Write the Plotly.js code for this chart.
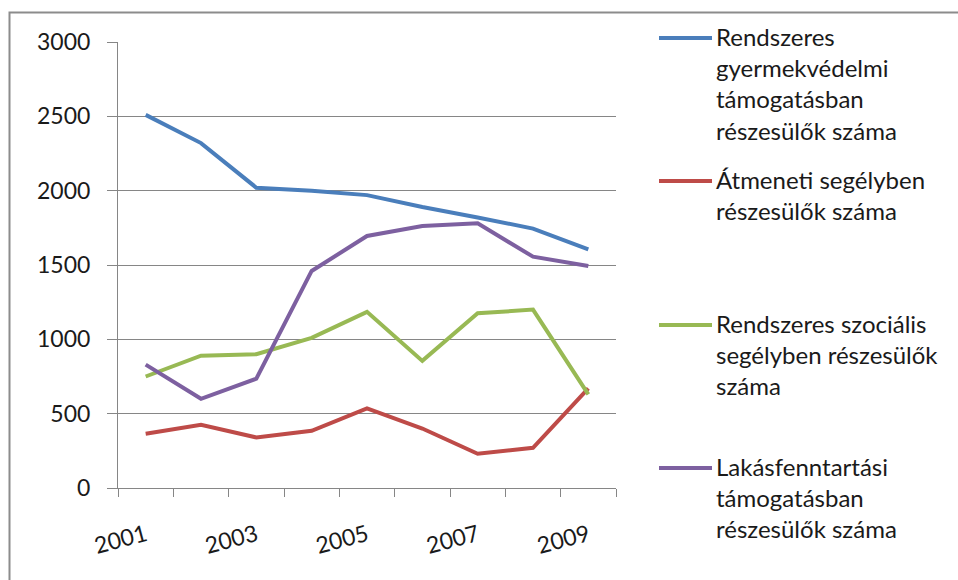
<!DOCTYPE html>
<html>
<head>
<meta charset="utf-8">
<script src="https://cdn.plot.ly/plotly-3.0.1.min.js"></script>
<style>
  html, body { margin: 0; padding: 0; background: #fff; }
  #chart { width: 958px; height: 580px; }
</style>
</head>
<body>
<div id="chart"></div>
<script>
// Adatok
const years = [2001, 2002, 2003, 2004, 2005, 2006, 2007, 2008, 2009];
const gyermekvedelmi = [2510, 2320, 2020, 2000, 1970, 1890, 1820, 1745, 1605];
const atmeneti = [365, 425, 340, 385, 535, 400, 230, 270, 670];
const szocialis = [750, 890, 900, 1010, 1185, 855, 1175, 1200, 630];
const lakasfenntartasi = [830, 600, 735, 1460, 1695, 1762, 1780, 1556, 1493];
const labelYears = [2001, 2003, 2005, 2007, 2009];

const seriesNames = [
    'Rendszeres<br>gyermekvédelmi<br>támogatásban<br>részesülők száma',
    'Átmeneti segélyben<br>részesülők száma',
    'Rendszeres szociális<br>segélyben részesülők<br>száma',
    'Lakásfenntartási<br>támogatásban<br>részesülők száma'
];
const seriesColors = ['#4A7EBB', '#BE4B48', '#98B954', '#7D60A0'];
const seriesValues = [gyermekvedelmi, atmeneti, szocialis, lakasfenntartasi];

const FONT = 'Lato, "Open Sans", sans-serif';
const TEXT = '#1a1a1a';
const GRID = '#868686';

// plot terület pixelben
const W = 958, H = 580;
const M = { l: 118, r: 342, t: 42, b: 92 };
const plotW = W - M.l - M.r;
const plotH = H - M.t - M.b;
const px2x = px => (px - M.l) / plotW;
const px2y = py => (H - M.b - py) / plotH;

const traces = seriesValues.map((vals, i) => ({
    x: years,
    y: vals,
    type: 'scatter',
    mode: 'lines',
    name: seriesNames[i],
    line: { color: seriesColors[i], width: 4 },
    hoverinfo: 'x+y'
}));

// jelmagyarázat kézzel (egyenletes közök, mint az eredetin)
const legendY = [38, 181, 325, 468];
const shapes = [
    {
        type: 'rect', xref: 'paper', yref: 'paper',
        x0: px2x(9.5), x1: px2x(975), y0: px2y(600), y1: px2y(12.5),
        line: { color: '#8c8c8c', width: 2 }, fillcolor: 'rgba(0,0,0,0)', layer: 'below'
    }
];
const annotations = [];
legendY.forEach((ly, i) => {
    shapes.push({
        type: 'line', xref: 'paper', yref: 'paper',
        x0: px2x(659), x1: px2x(712), y0: px2y(ly), y1: px2y(ly),
        line: { color: seriesColors[i], width: 4 }
    });
    annotations.push({
        xref: 'paper', yref: 'paper',
        x: px2x(714), y: px2y(ly - 18),
        xanchor: 'left', yanchor: 'top', align: 'left',
        showarrow: false,
        text: seriesNames[i],
        font: { family: FONT, size: 24, color: TEXT }
    });
});

const layout = {
    width: W,
    height: H,
    margin: M,
    paper_bgcolor: '#fff',
    plot_bgcolor: '#fff',
    showlegend: false,
    font: { family: FONT, color: TEXT },
    xaxis: {
        type: 'linear',
        range: [2000.5, 2009.5],
        tickmode: 'array',
        tickvals: labelYears,
        ticktext: labelYears.map(String),
        ticks: '',
        tickangle: -15,
        ticklabelstandoff: 24,
        tickfont: { family: FONT, size: 23, color: TEXT },
        showgrid: false,
        zeroline: false,
        showline: true,
        linecolor: GRID,
        linewidth: 1,
        minor: {
            ticks: 'outside', ticklen: 8, tickcolor: GRID, tickwidth: 1,
            tick0: 2000.5, dtick: 1, showgrid: false
        }
    },
    yaxis: {
        range: [0, 3000],
        dtick: 500,
        ticks: 'outside',
        ticklen: 10,
        tickcolor: GRID,
        ticklabelstandoff: 12,
        tickfont: { family: FONT, size: 23, color: TEXT },
        showgrid: true,
        gridcolor: GRID,
        gridwidth: 1,
        zeroline: false,
        showline: true,
        linecolor: GRID,
        linewidth: 1
    },
    shapes: shapes,
    annotations: annotations
};

Plotly.newPlot('chart', traces, layout, { displayModeBar: false, staticPlot: true });
</script>
</body>
</html>
